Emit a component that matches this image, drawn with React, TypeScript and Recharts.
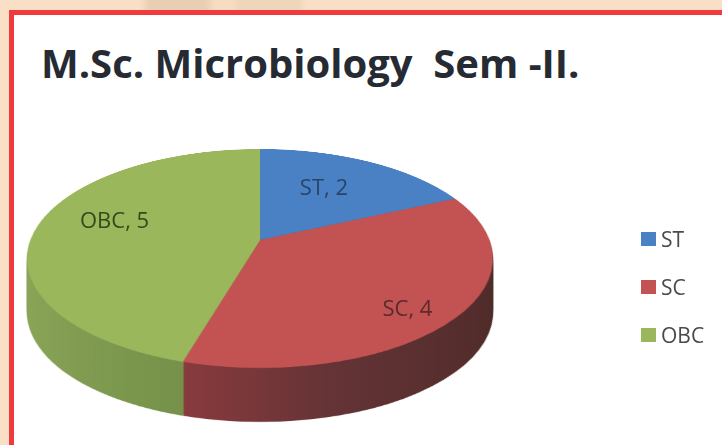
import { PieChart, Pie, Cell, Legend } from 'recharts';

const categories = ['ST', 'SC', 'OBC'];
const counts = [2, 4, 5];
const sliceColors = ['#4a80c4', '#c25352', '#9ab75c'];
const sideFills = ['#2f5079', 'url(#sideRed)', 'url(#sideGreen)'];
const labelColors = ['#2b4466', '#5a2a2c', '#36481c'];

const pieData = categories.map((name, i) => ({ name, value: counts[i] }));

// 3d look: the flat pie is tilted with css, side wall is a stack of copies
const RADIUS = 229.6;
const SIZE = 480;
const TILT = 'perspective(1204px) rotateX(62.4deg)';
const depthSteps = Array.from({ length: 27 }, (_, i) => 54 - i * 2);

// where each label sits, as a share of the projected radius
const labelShare = [
    { x: 0.515, y: 0.7 },
    { x: 0.85, y: 0.8 },
    { x: 0.64, y: 1.6 },
];

const layerStyle = (transform: string) => ({
    position: 'absolute' as const,
    left: 20,
    top: 0,
    width: SIZE,
    height: SIZE,
    transform,
    transformOrigin: `${SIZE / 2}px ${SIZE / 2}px`,
});

function FlatPie({ fills }: { fills: string[] }) {
    return (
        <PieChart width={SIZE} height={SIZE} margin={{ top: 0, right: 0, bottom: 0, left: 0 }}>
            <defs>
                <linearGradient id="sideGreen" gradientUnits="userSpaceOnUse" x1="8" y1="0" x2="165" y2="0">
                    <stop offset="0%" stopColor="#8aa557" />
                    <stop offset="100%" stopColor="#76924a" />
                </linearGradient>
                <linearGradient id="sideRed" gradientUnits="userSpaceOnUse" x1="163" y1="0" x2="470" y2="0">
                    <stop offset="0%" stopColor="#8c3b3e" />
                    <stop offset="45%" stopColor="#643335" />
                    <stop offset="100%" stopColor="#4e2a28" />
                </linearGradient>
            </defs>
            <Pie
                data={pieData}
                dataKey="value"
                nameKey="name"
                cx={SIZE / 2}
                cy={SIZE / 2}
                outerRadius={RADIUS}
                startAngle={90}
                endAngle={-270}
                stroke="none"
                isAnimationActive={false}
            >
                {pieData.map((entry, index) => (
                    <Cell key={`cell-${entry.name}`} fill={fills[index]} />
                ))}
            </Pie>
        </PieChart>
    );
}

function renderSliceLabel(props: any) {
    const { cx, cy, midAngle, index, name, value } = props;
    const angle = (midAngle * Math.PI) / 180;
    const sin = Math.sin(angle);
    // top half of the tilted disc is shorter than the bottom half
    const ry = sin > 0 ? 91 : 128;
    const x = cx + RADIUS * labelShare[index].x * Math.cos(angle);
    const y = cy - ry * labelShare[index].y * sin;
    return (
        <text
            x={x}
            y={y}
            fill={labelColors[index]}
            textAnchor="middle"
            dominantBaseline="central"
            fontFamily="Open Sans"
            fontSize={22}
        >
            {`${name}, ${value}`}
        </text>
    );
}

function LegendList({ payload }: any) {
    return (
        <div>
            {(payload || []).map((item: any, i: number) => (
                <div
                    key={item.value}
                    style={{ display: 'flex', alignItems: 'center', height: 20, marginBottom: i < 2 ? 28 : 0 }}
                >
                    <span style={{ width: 15, height: 14, background: item.color, marginRight: 5 }} />
                    <span style={{ fontFamily: 'Open Sans', fontSize: 21, color: '#4a4a4a', lineHeight: '20px' }}>
                        {item.value}
                    </span>
                </div>
            ))}
        </div>
    );
}

export default function App() {
    return (
        <div
            style={{
                position: 'absolute',
                left: 0,
                top: 0,
                width: 722,
                height: 445,
                overflow: 'hidden',
                filter: 'blur(0.5px)',
                background:
                    'linear-gradient(90deg, #f9dfc5 0 140px, #e8cfb4 150px 205px, #f6dcc2 215px 232px, #eed6bb 240px 298px, #f9dfc5 306px)',
            }}
        >
            <div
                style={{
                    position: 'absolute',
                    left: 9,
                    top: 10,
                    width: 713,
                    height: 435,
                    boxSizing: 'border-box',
                    background: '#fff',
                    borderLeft: '5px solid #f13a3e',
                    borderTop: '5px solid #f13a3e',
                }}
            />
            <div
                style={{
                    position: 'absolute',
                    left: 41,
                    top: 38,
                    whiteSpace: 'pre',
                    fontFamily: 'Open Sans',
                    fontWeight: 700,
                    fontSize: 40,
                    lineHeight: '50px',
                    color: '#262b33',
                }}
            >
                {'M.Sc. Microbiology  Sem -II.'}
            </div>
            {depthSteps.map((step) => (
                <div key={step} style={layerStyle(`translateY(${step}px) ${TILT}`)}>
                    <FlatPie fills={sideFills} />
                </div>
            ))}
            <div style={layerStyle(TILT)}>
                <FlatPie fills={sliceColors} />
            </div>
            <div style={{ position: 'absolute', left: 0, top: 0 }}>
                <PieChart width={722} height={445} margin={{ top: 0, right: 0, bottom: 0, left: 0 }}>
                    <Pie
                        data={pieData}
                        dataKey="value"
                        nameKey="name"
                        cx={260}
                        cy={240}
                        outerRadius={RADIUS}
                        startAngle={90}
                        endAngle={-270}
                        stroke="none"
                        fillOpacity={0}
                        label={renderSliceLabel}
                        labelLine={false}
                        isAnimationActive={false}
                    >
                        {pieData.map((entry, index) => (
                            <Cell key={`label-${entry.name}`} fill={sliceColors[index]} />
                        ))}
                    </Pie>
                    <Legend
                        layout="vertical"
                        align="right"
                        verticalAlign="top"
                        itemSorter={null}
                        wrapperStyle={{ left: 641, top: 229, width: 75 }}
                        content={<LegendList />}
                    />
                </PieChart>
            </div>
        </div>
    );
}
